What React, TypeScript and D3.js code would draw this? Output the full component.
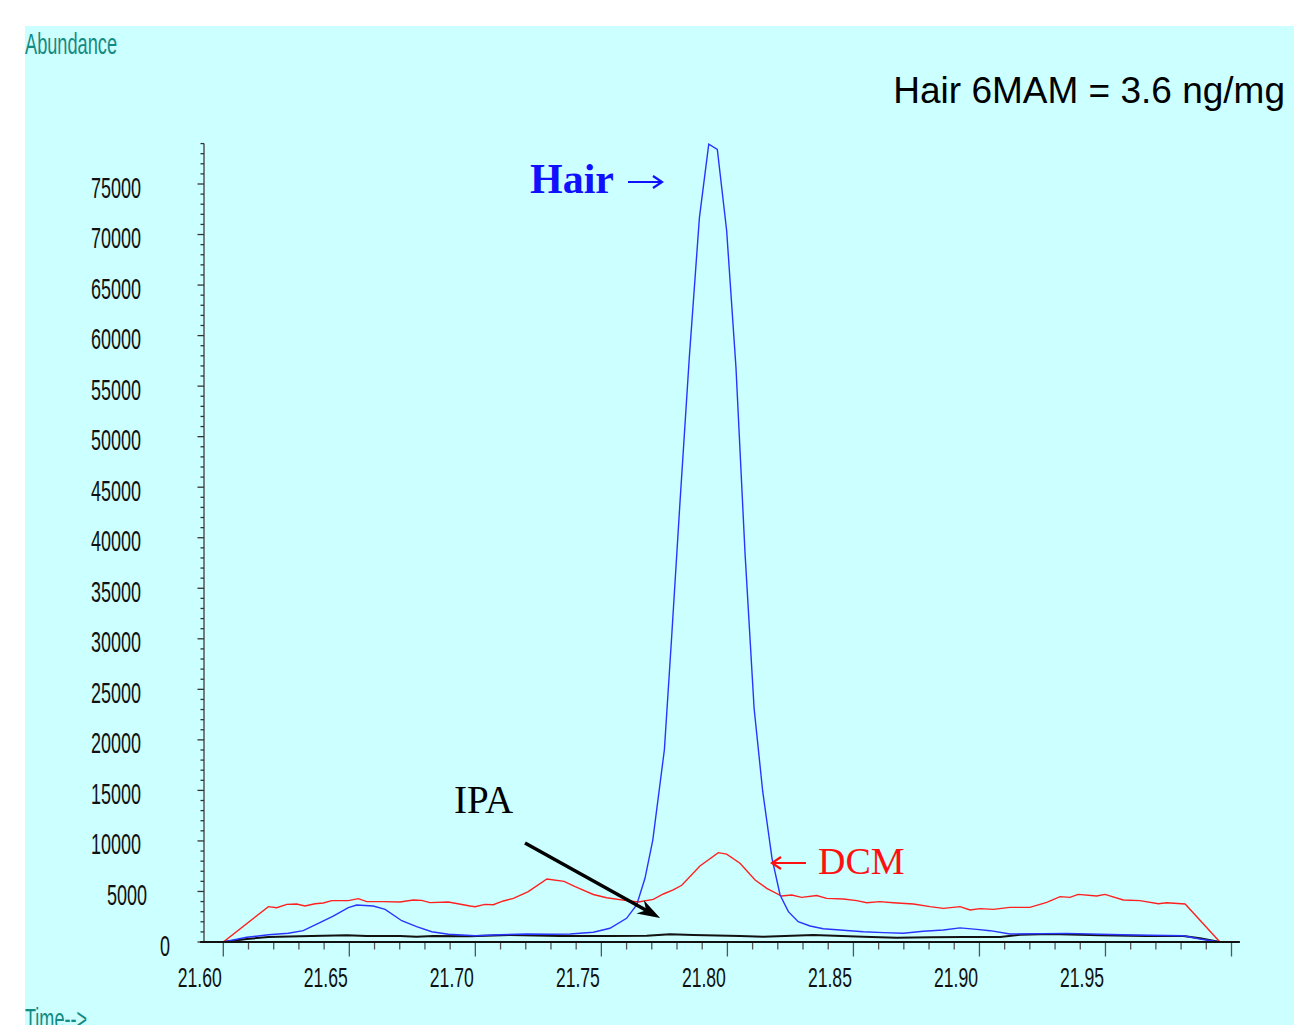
import * as d3 from "d3";

// chromatogram traces, [time (min), abundance]
const dcm: [number, number][] = [
  [21.5908, 0], [21.6, 0], [21.6179, 3495], [21.6212, 3390], [21.6252, 3725], [21.6291, 3760],
  [21.6324, 3560], [21.6364, 3790], [21.6397, 3860], [21.643, 4090], [21.6496, 4090], [21.6536, 4290],
  [21.6569, 3990], [21.6635, 3990], [21.6701, 3960], [21.6754, 4155], [21.6787, 4120], [21.682, 3900],
  [21.6893, 3960], [21.6979, 3560], [21.6999, 3495], [21.7038, 3720], [21.7071, 3690], [21.7111, 4060],
  [21.7151, 4320], [21.721, 4980], [21.7284, 6230], [21.7352, 6000], [21.7396, 5470], [21.7468, 4700],
  [21.7521, 4380], [21.76, 4090], [21.7647, 3960], [21.7706, 4220], [21.7746, 4750], [21.7785, 5150],
  [21.7819, 5610], [21.7891, 7520], [21.7964, 8840], [21.7997, 8700], [21.805, 7790], [21.811, 6130],
  [21.8156, 5310], [21.8215, 4550], [21.8255, 4650], [21.8295, 4420], [21.8354, 4600], [21.8394, 4320],
  [21.846, 4255], [21.8513, 4090], [21.8553, 3890], [21.8605, 3990], [21.8658, 3890], [21.8738, 3760],
  [21.8804, 3495], [21.8857, 3330], [21.8923, 3495], [21.8963, 3170], [21.9002, 3300], [21.9055, 3230],
  [21.9121, 3430], [21.92, 3430], [21.9267, 3925], [21.932, 4485], [21.9359, 4420], [21.9392, 4715],
  [21.9465, 4550], [21.9498, 4715], [21.9571, 4155], [21.9637, 4090], [21.971, 3790], [21.9743, 3890],
  [21.9816, 3760], [21.9954, 0], [22.0033, 0],
];

const hair: [number, number][] = [
  [21.6, 0], [21.6093, 465], [21.6179, 722], [21.6258, 860], [21.6317, 1118], [21.6377, 1850],
  [21.6436, 2572], [21.6496, 3394], [21.6529, 3660], [21.6595, 3562], [21.6642, 3235], [21.6708, 2107],
  [21.6767, 1514], [21.6827, 1019], [21.6893, 762], [21.6999, 623], [21.7098, 722], [21.7204, 790],
  [21.7296, 760], [21.7376, 790], [21.7468, 960], [21.7534, 1355], [21.76, 2345], [21.764, 3660],
  [21.7673, 6300], [21.7704, 10090], [21.775, 19020], [21.7779, 30250], [21.7812, 43550], [21.7849, 57880],
  [21.7889, 71680], [21.7926, 78950], [21.796, 78430], [21.7997, 70400], [21.8034, 56850], [21.807, 38450],
  [21.8106, 23100], [21.814, 14920], [21.8177, 8280], [21.8209, 4650], [21.8242, 3000], [21.8281, 2010],
  [21.8328, 1583], [21.838, 1316], [21.8447, 1187], [21.8539, 1020], [21.8619, 930], [21.8698, 860],
  [21.8777, 1058], [21.8857, 1187], [21.8923, 1400], [21.8989, 1250], [21.9042, 1120], [21.9121, 790],
  [21.9346, 855], [21.9478, 760], [21.9609, 690], [21.9809, 623], [21.9875, 297], [21.9954, 0],
];

const ipa: [number, number][] = [
  [21.6, 0], [21.6093, 297], [21.6179, 495], [21.6304, 560], [21.649, 660], [21.6569, 594],
  [21.6701, 594], [21.6767, 528], [21.6833, 594], [21.6979, 560], [21.7137, 693], [21.7336, 594],
  [21.7534, 594], [21.768, 628], [21.7772, 760], [21.7865, 693], [21.805, 594], [21.8142, 528],
  [21.8341, 693], [21.8539, 528], [21.8672, 430], [21.8804, 462], [21.8936, 495], [21.9082, 495],
  [21.9161, 722], [21.928, 790], [21.9478, 660], [21.9664, 594], [21.9809, 594], [21.9875, 363],
  [21.9954, 0],
];

const xTickLabels = ["21.60", "21.65", "21.70", "21.75", "21.80", "21.85", "21.90", "21.95"];
const yTickLabels = [0, 5000, 10000, 15000, 20000, 25000, 30000, 35000, 40000, 45000, 50000, 55000, 60000, 65000, 70000, 75000];

const narrow = "'Liberation Sans', Arial, sans-serif";
const serif = "'Liberation Serif', 'Times New Roman', serif";

// thin open arrow drawn as a path, pointing from (x1,y) towards (x2,y)
const hArrow = (x1: number, x2: number, yy: number) => {
  const dir = Math.sign(x2 - x1);
  return `M${x1},${yy}H${x2}M${x2 - dir * 9},${yy - 6}L${x2},${yy}L${x2 - dir * 9},${yy + 6}`;
};

export default function App() {
  const width = 1294;
  const height = 1025;
  const x = d3.scaleLinear().domain([21.6, 22.0]).range([223.3, 1231.5]);
  const y = d3.scaleLinear().domain([0, 75000]).range([942, 184]);
  const line = d3
    .line<[number, number]>()
    .x((d) => x(d[0]))
    .y((d) => y(d[1]));

  const xMinor = d3.range(0, 41).map((i) => 21.6 + i * 0.01);
  const yMinor = d3.range(0, 80).map((i) => i * 1000);

  const yLabelRight = (v: number) => (v === 0 ? 170 : v < 10000 ? 147 : 141);
  const yLabelWidth = (v: number) => String(v).length * 10;

  const arrowFrom: [number, number] = [21.7197, 9795];
  const arrowTo: [number, number] = [21.7733, 2375];
  const ax1 = x(arrowFrom[0]);
  const ay1 = y(arrowFrom[1]);
  const ax2 = x(arrowTo[0]);
  const ay2 = y(arrowTo[1]);
  const ang = Math.atan2(ay2 - ay1, ax2 - ax1);
  const head = (len: number, spread: number) => [
    ax2 - len * Math.cos(ang - spread),
    ay2 - len * Math.sin(ang - spread),
  ];
  const h1 = head(24, 0.32);
  const h2 = head(24, -0.32);
  const hm = head(16, 0);

  return (
    <svg
      width={width}
      height={height}
      style={{ position: "absolute", left: 0, top: 0, background: "#ffffff" }}
    >
      <rect x={25} y={26} width={width - 25} height={height - 26} fill="#ccffff" />

      <text x={25} y={54} fontFamily={narrow} fontSize={29} fill="#138a82" textLength={92} lengthAdjust="spacingAndGlyphs">
        Abundance
      </text>
      <text x={25} y={1029} fontFamily={narrow} fontSize={29} fill="#138a82" textLength={62} lengthAdjust="spacingAndGlyphs">
        Time--&gt;
      </text>

      <text x={1285} y={103} textAnchor="end" fontFamily={narrow} fontSize={37} fill="#000">
        Hair 6MAM = 3.6 ng/mg
      </text>

      {/* y axis */}
      <line x1={204} x2={204} y1={y(79000)} y2={y(0)} stroke="#555" strokeWidth={1.5} />
      {yMinor.map((v) => (
        <line
          key={v}
          x1={v % 5000 === 0 ? 197.5 : 200.5}
          x2={204}
          y1={y(v)}
          y2={y(v)}
          stroke="#333"
          strokeWidth={1.3}
        />
      ))}
      {yTickLabels.map((v) => (
        <text
          key={v}
          x={yLabelRight(v)}
          y={y(v) + 3}
          dy="0.35em"
          textAnchor="end"
          fontFamily={narrow}
          fontSize={30}
          fill="#111"
          textLength={yLabelWidth(v)}
          lengthAdjust="spacingAndGlyphs"
        >
          {v}
        </text>
      ))}

      {/* x axis */}
      {xMinor.map((t, i) => (
        <line
          key={i}
          x1={x(t)}
          x2={x(t)}
          y1={y(0)}
          y2={y(0) + (i % 5 === 0 ? 14.5 : 7.5)}
          stroke="#555"
          strokeWidth={1.3}
        />
      ))}
      {xTickLabels.map((label) => (
        <text
          key={label}
          x={x(+label) - 1.5}
          y={977}
          dy="0.35em"
          textAnchor="end"
          fontFamily={narrow}
          fontSize={28}
          fill="#111"
          textLength={44}
          lengthAdjust="spacingAndGlyphs"
        >
          {label}
        </text>
      ))}

      {/* traces */}
      <path d={line(ipa) ?? ""} fill="none" stroke="#111" strokeWidth={2} />
      <path d={line(dcm) ?? ""} fill="none" stroke="#ff2020" strokeWidth={1.4} />
      <path d={line(hair) ?? ""} fill="none" stroke="#2a34ff" strokeWidth={1.4} />
      <line x1={x(21.5908)} x2={x(22.0033)} y1={y(0)} y2={y(0)} stroke="#111" strokeWidth={2} />

      {/* annotations */}
      <text x={530} y={193} fontFamily={serif} fontWeight="bold" fontSize={42} fill="#1010ff">
        Hair
      </text>
      <path d={hArrow(628, 662, 182)} fill="none" stroke="#1010ff" strokeWidth={2.2} />

      <text x={454} y={813} fontFamily={serif} fontSize={39} fill="#000">
        IPA
      </text>
      <line x1={ax1} y1={ay1} x2={hm[0]} y2={hm[1]} stroke="#000" strokeWidth={3.5} />
      <path d={`M${ax2},${ay2}L${h1[0]},${h1[1]}L${hm[0]},${hm[1]}L${h2[0]},${h2[1]}Z`} fill="#000" />

      <path d={hArrow(806, 772, 863)} fill="none" stroke="#ff1010" strokeWidth={2.2} />
      <text x={818} y={874} fontFamily={serif} fontSize={38} fill="#ff1010">
        DCM
      </text>
    </svg>
  );
}
